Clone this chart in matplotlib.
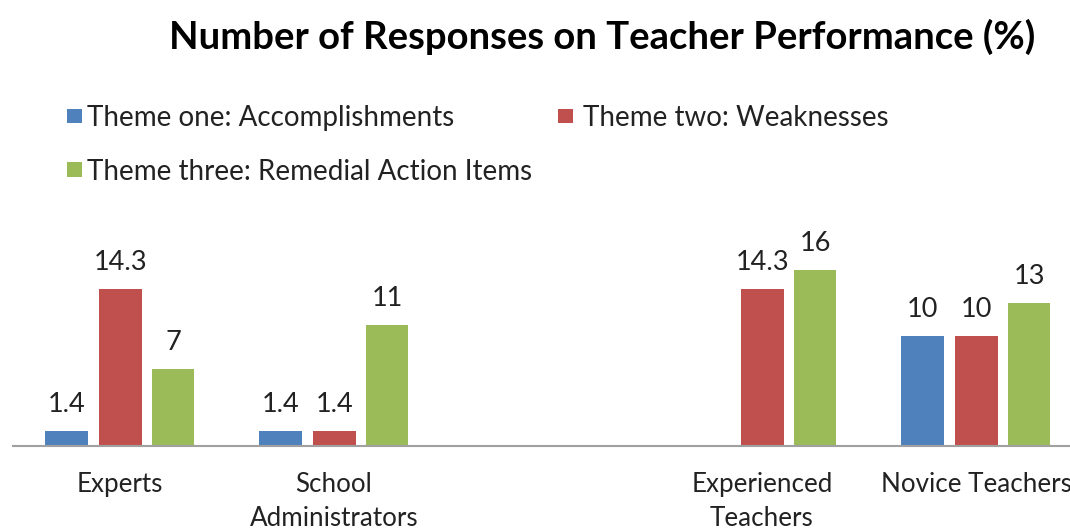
import numpy as np
import matplotlib
matplotlib.use("Agg")
import matplotlib.pyplot as plt
from matplotlib.patches import Rectangle

plt.rcParams['font.family'] = ['Lato', 'DejaVu Sans']

categories = ["Experts", "School\nAdministrators", "", "Experienced\nTeachers", "Novice Teachers"]
series_names = ["Theme one: Accomplishments", "Theme two: Weaknesses", "Theme three: Remedial Action Items"]
accomplishments = [1.4, 1.4, np.nan, np.nan, 10]
weaknesses = [14.3, 1.4, np.nan, 14.3, 10]
remedial = [7, 11, np.nan, 16, 13]
colors = ["#4F81BD", "#C0504D", "#9BBB59"]

W, H = 1070, 531
fig = plt.figure(figsize=(W / 100, H / 100), dpi=100)
# axes: x from 13px to 1083px, y baseline at 446px
ax = fig.add_axes([13 / W, (H - 446) / H, 1070 / W, (446 - 230.5) / H])

x = np.arange(len(categories))
bw = 0.2
offsets = [-0.25, 0.004, 0.248]
for vals, off, c in zip([accomplishments, weaknesses, remedial], offsets, colors):
    bars = ax.bar(x + off, vals, width=bw, color=c, linewidth=0)
    ax.bar_label(bars, labels=["" if np.isnan(v) else f"{v:g}" for v in vals],
                 padding=10, fontsize=19.5, color="#222222")

ax.set_xlim(-0.5, 4.5)
ax.set_ylim(0, 19.6)
ax.set_xticks(x)
ax.set_xticklabels(categories, fontsize=18.7, color="#222222", linespacing=1.42)
ax.tick_params(axis='x', length=0, pad=19)
ax.set_yticks([])
for s in ["top", "right", "left"]:
    ax.spines[s].set_visible(False)
ax.spines["bottom"].set_color("#A0A0A0")
ax.spines["bottom"].set_linewidth(1.5)

fig.text(602 / W, 1 - 37 / H, "Number of Responses on Teacher Performance (%)",
         ha="center", va="center", fontsize=27.5, fontweight="bold", color="black")

# legend
legend_pos = [(67, 116, 87), (558, 116, 583), (67, 170, 87)]
for (lx, ly, tx), name, c in zip(legend_pos, series_names, colors):
    fig.add_artist(Rectangle((lx / W, 1 - (ly + 7) / H), 14.5 / W, 14.5 / H,
                             transform=fig.transFigure, color=c, linewidth=0))
    fig.text(tx / W, 1 - (ly + 2) / H, name, ha="left", va="center",
             fontsize=20, color="#222222")

fig.savefig("out.png", dpi=100)
